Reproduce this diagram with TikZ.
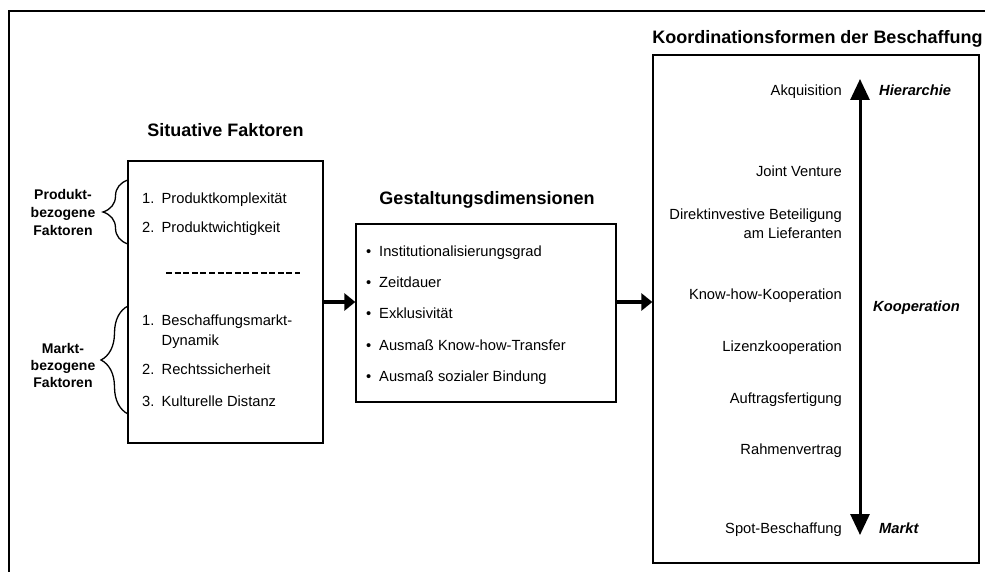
\documentclass[tikz,border=0pt]{standalone}
\usepackage{fontspec}
\setmainfont{Liberation Sans}
\usetikzlibrary{arrows.meta,decorations.pathreplacing}
\tikzset{
  box/.style={draw=black, line width=1.3pt, rectangle, inner sep=0pt},
  body/.style={inner sep=0pt, font=\fontsize{14.7}{17}\selectfont},
  ttl/.style={inner sep=0pt, font=\fontsize{18}{21}\selectfont\bfseries, anchor=base},
  blab/.style={inner sep=0pt, font=\fontsize{14}{17}\selectfont\bfseries, anchor=base},
  emph/.style={inner sep=0pt, font=\fontsize{14.7}{17}\selectfont\bfseries\itshape, anchor=base west},
  lft/.style={body, anchor=base west},
  rgt/.style={body, anchor=base east},
  flow/.style={line width=3.5pt, -{Triangle[length=11pt,width=17pt]}},
  brc/.style={line width=1.3pt, decorate, decoration={brace, amplitude=#1}},
}
\newcommand{\num}[1]{\makebox[19.5pt][l]{#1}}
\newcommand{\bul}{\makebox[13pt][l]{\textbullet}}
\begin{document}
\begin{tikzpicture}[x=1pt,y=-1pt]
\useasboundingbox (0,0) rectangle (985,572);
% outer frame (partly visible)
\coordinate (fbl) at (9,572);
\coordinate (ftl) at (9,11);
\coordinate (ftr) at (985,11);
\draw[line width=2.5pt] (fbl) -- (ftl) -- (ftr);

% ---- Situative Faktoren ----
\node[ttl] (t1) at (225.5,137) {Situative Faktoren};
\node[box, minimum width=195pt, minimum height=282pt] (sf) at (225.5,302) {};
\node[lft] (p1) at (142,204) {\num{1.}Produktkomplexität};
\node[lft] (p2) at (142,233) {\num{2.}Produktwichtigkeit};
\coordinate (d1) at (166,273);
\coordinate (d2) at (300,273);
\draw[line width=1.5pt, dash pattern=on 6pt off 2.6pt] (d1) -- (d2);
\node[lft] (m1) at (142,325) {\num{1.}Beschaffungsmarkt-};
\node[lft] (m1b) at (161.5,345) {Dynamik};
\node[lft] (m2) at (142,374) {\num{2.}Rechtssicherheit};
\node[lft] (m3) at (142,406) {\num{3.}Kulturelle Distanz};

% braces
\coordinate (b1a) at (128,244);
\coordinate (b1b) at (128,180);
\draw[brc=25pt] (b1a) -- (b1b);
\node[blab] (pb1) at (63,200) {Produkt-};
\node[blab] (pb2) at (63,218) {bezogene};
\node[blab] (pb3) at (63,236) {Faktoren};
\coordinate (b2a) at (128,414);
\coordinate (b2b) at (128,306);
\draw[brc=27pt] (b2a) -- (b2b);
\node[blab] (mb1) at (63,353) {Markt-};
\node[blab] (mb2) at (63,370) {bezogene};
\node[blab] (mb3) at (63,387) {Faktoren};

% ---- Gestaltungsdimensionen ----
\node[ttl] (t2) at (487,205) {Gestaltungsdimensionen};
\node[box, minimum width=260pt, minimum height=178pt] (gd) at (486,313) {};
\node[lft] (g1) at (366,256) {\bul Institutionalisierungsgrad};
\node[lft] (g2) at (366,287) {\bul Zeitdauer};
\node[lft] (g3) at (366,318) {\bul Exklusivität};
\node[lft] (g4) at (366,350) {\bul Ausmaß Know-how-Transfer};
\node[lft] (g5) at (366,381) {\bul Ausmaß sozialer Bindung};

% ---- Koordinationsformen ----
\node[ttl] (t3) at (817.5,44) {Koordinationsformen der Beschaffung};
\node[box, minimum width=326pt, minimum height=508pt] (kf) at (816,309) {};
\node[rgt] (k1) at (842,96) {Akquisition};
\node[rgt] (k2) at (842,177) {Joint Venture};
\node[rgt] (k3) at (842,220) {Direktinvestive Beteiligung};
\node[rgt] (k3b) at (842,238) {am Lieferanten};
\node[rgt] (k4) at (842,299) {Know-how-Kooperation};
\node[rgt] (k5) at (842,351) {Lizenzkooperation};
\node[rgt] (k6) at (842,403) {Auftragsfertigung};
\node[rgt] (k7) at (842,454) {Rahmenvertrag};
\node[rgt] (k8) at (842,533) {Spot-Beschaffung};
\node[emph] (e1) at (879,96) {Hierarchie};
\node[emph] (e2) at (873,311) {Kooperation};
\node[emph] (e3) at (879,533) {Markt};
\coordinate (vt) at (860,79);
\coordinate (vb) at (860,535);
\draw[line width=3pt, {Triangle[length=21pt,width=19pt]}-{Triangle[length=21pt,width=19pt]}] (vt) -- (vb);

% ---- flow arrows ----
\draw[flow] (sf.east) -- (sf.east -| gd.west);
\draw[flow] (sf.east -| gd.east) -- (sf.east -| kf.west);
\end{tikzpicture}
\end{document}
